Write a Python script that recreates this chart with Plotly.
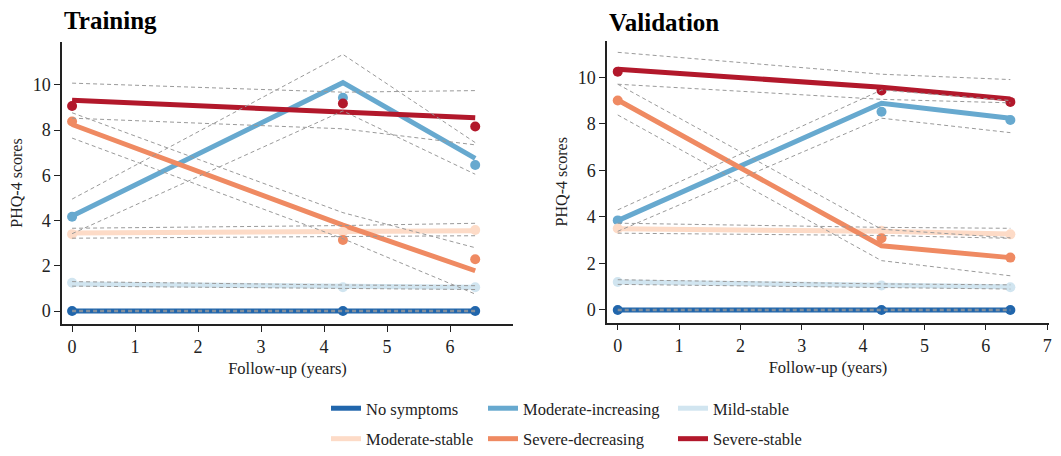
import plotly.graph_objects as go

# ---------------- data ----------------
years = [0, 4.3, 6.4]
classes = ["No symptoms", "Moderate-increasing", "Mild-stable",
           "Moderate-stable", "Severe-decreasing", "Severe-stable"]
colors = ["#2166ac", "#67a9cf", "#d1e5f0", "#fddbc7", "#ef8a62", "#b2182b"]

# Training: fitted trajectories
tr_fit_no_symptoms = [0, 0, 0]
tr_fit_mod_increasing = [4.2, 10.1, 6.75]
tr_fit_mild_stable = [1.2, 1.08, 1.05]
tr_fit_mod_stable = [3.45, 3.5, 3.55]
tr_fit_sev_decreasing = [8.25, 3.8, 1.78]
tr_fit_sev_stable = [9.32, 8.83, 8.55]
# Training: observed means
tr_obs_no_symptoms = [0, 0, 0]
tr_obs_mod_increasing = [4.17, 9.43, 6.46]
tr_obs_mild_stable = [1.25, 1.05, 1.05]
tr_obs_mod_stable = [3.4, 3.5, 3.58]
tr_obs_sev_decreasing = [8.38, 3.14, 2.29]
tr_obs_sev_stable = [9.07, 9.18, 8.16]
# Training: confidence bounds
tr_up_no_symptoms = [0.03, 0.03, 0.03]
tr_lo_no_symptoms = [-0.03, -0.03, -0.03]
tr_up_mod_increasing = [4.95, 11.35, 7.45]
tr_lo_mod_increasing = [3.42, 8.85, 6.05]
tr_up_mild_stable = [1.3, 1.15, 1.12]
tr_lo_mild_stable = [1.1, 0.98, 0.95]
tr_up_mod_stable = [3.66, 3.78, 3.88]
tr_lo_mod_stable = [3.22, 3.28, 3.33]
tr_up_sev_decreasing = [8.77, 4.35, 2.8]
tr_lo_sev_decreasing = [7.65, 3.2, 0.75]
tr_up_sev_stable = [10.08, 9.68, 9.75]
tr_lo_sev_stable = [8.53, 8.06, 7.35]

# Validation: fitted trajectories
va_fit_no_symptoms = [0, 0, 0]
va_fit_mod_increasing = [3.84, 8.88, 8.24]
va_fit_mild_stable = [1.2, 1.05, 1.0]
va_fit_mod_stable = [3.49, 3.38, 3.27]
va_fit_sev_decreasing = [9.02, 2.76, 2.25]
va_fit_sev_stable = [10.34, 9.57, 9.07]
# Validation: observed means
va_obs_no_symptoms = [0, 0, 0]
va_obs_mod_increasing = [3.85, 8.52, 8.16]
va_obs_mild_stable = [1.2, 1.05, 0.98]
va_obs_mod_stable = [3.5, 3.4, 3.25]
va_obs_sev_decreasing = [9.0, 3.08, 2.25]
va_obs_sev_stable = [10.24, 9.43, 8.94]
# Validation: confidence bounds
va_up_no_symptoms = [0.03, 0.03, 0.03]
va_lo_no_symptoms = [-0.03, -0.03, -0.03]
va_up_mod_increasing = [4.3, 9.45, 9.0]
va_lo_mod_increasing = [3.38, 8.24, 7.62]
va_up_mild_stable = [1.3, 1.12, 1.08]
va_lo_mild_stable = [1.1, 0.97, 0.9]
va_up_mod_stable = [3.73, 3.55, 3.51]
va_lo_mod_stable = [3.3, 3.2, 3.08]
va_up_sev_decreasing = [9.7, 3.47, 3.1]
va_lo_sev_decreasing = [8.38, 2.12, 1.47]
va_up_sev_stable = [11.07, 10.13, 9.9]
va_lo_sev_stable = [9.7, 9.05, 8.9]

x_ticks = [0, 1, 2, 3, 4, 5, 6, 7]
y_ticks = [0, 2, 4, 6, 8, 10]

tr_fit = [tr_fit_no_symptoms, tr_fit_mod_increasing, tr_fit_mild_stable,
          tr_fit_mod_stable, tr_fit_sev_decreasing, tr_fit_sev_stable]
tr_obs = [tr_obs_no_symptoms, tr_obs_mod_increasing, tr_obs_mild_stable,
          tr_obs_mod_stable, tr_obs_sev_decreasing, tr_obs_sev_stable]
tr_up = [tr_up_no_symptoms, tr_up_mod_increasing, tr_up_mild_stable,
         tr_up_mod_stable, tr_up_sev_decreasing, tr_up_sev_stable]
tr_lo = [tr_lo_no_symptoms, tr_lo_mod_increasing, tr_lo_mild_stable,
         tr_lo_mod_stable, tr_lo_sev_decreasing, tr_lo_sev_stable]
va_fit = [va_fit_no_symptoms, va_fit_mod_increasing, va_fit_mild_stable,
          va_fit_mod_stable, va_fit_sev_decreasing, va_fit_sev_stable]
va_obs = [va_obs_no_symptoms, va_obs_mod_increasing, va_obs_mild_stable,
          va_obs_mod_stable, va_obs_sev_decreasing, va_obs_sev_stable]
va_up = [va_up_no_symptoms, va_up_mod_increasing, va_up_mild_stable,
         va_up_mod_stable, va_up_sev_decreasing, va_up_sev_stable]
va_lo = [va_lo_no_symptoms, va_lo_mod_increasing, va_lo_mild_stable,
         va_lo_mod_stable, va_lo_sev_decreasing, va_lo_sev_stable]

# legend column for each class (3 columns x 2 rows)
legend_of = ["legend", "legend2", "legend3", "legend", "legend2", "legend3"]

FONT = "Liberation Serif"
fig = go.Figure()

def add_panel(fit, obs, up, lo, xa, ya, show_legend):
    # fitted lines
    for i, name in enumerate(classes):
        fig.add_trace(go.Scatter(
            x=years, y=fit[i], mode="lines", name=name,
            line=dict(color=colors[i], width=5),
            xaxis=xa, yaxis=ya, showlegend=show_legend,
            legend=legend_of[i], legendgroup=name, hoverinfo="skip"))
    # observed means
    for i, name in enumerate(classes):
        fig.add_trace(go.Scatter(
            x=years, y=obs[i], mode="markers", name=name,
            marker=dict(color=colors[i], size=10),
            xaxis=xa, yaxis=ya, showlegend=False, legendgroup=name))
    # confidence bounds
    for i, name in enumerate(classes):
        for b in (up[i], lo[i]):
            fig.add_trace(go.Scatter(
                x=years, y=b, mode="lines",
                line=dict(color="#9a9a9a", width=1, dash="4px,3px"),
                xaxis=xa, yaxis=ya, showlegend=False, hoverinfo="skip"))

add_panel(tr_fit, tr_obs, tr_up, tr_lo, "x", "y", True)
add_panel(va_fit, va_obs, va_up, va_lo, "x2", "y2", False)

W, H = 1061, 456
axis_common = dict(showline=True, linecolor="#222", linewidth=1.5,
                   ticks="outside", ticklen=6, tickcolor="#222", tickwidth=1.2,
                   showgrid=False, zeroline=False, automargin=False,
                   tickfont=dict(family=FONT, size=18, color="#222"))

fig.update_layout(
    width=W, height=H,
    margin=dict(l=0, r=0, t=0, b=0),
    plot_bgcolor="white", paper_bgcolor="white",
    font=dict(family=FONT, color="#222"),
    xaxis=dict(domain=[62 / W, 513 / W], range=[-0.16, 7.0],
               tickvals=x_ticks[:-1], anchor="y",
               title=dict(text="Follow-up (years)", standoff=6,
                          font=dict(family=FONT, size=16.5, color="#222")),
               **axis_common),
    yaxis=dict(domain=[(H - 324) / H, (H - 42) / H], range=[-0.575, 11.9],
               tickvals=y_ticks, anchor="x",
               title=dict(text="PHQ-4 scores", standoff=6,
                          font=dict(family=FONT, size=16, color="#222")),
               **axis_common),
    xaxis2=dict(domain=[607 / W, 1049 / W], range=[-0.175, 7.03],
                tickvals=x_ticks, anchor="y2",
                title=dict(text="Follow-up (years)", standoff=6,
                           font=dict(family=FONT, size=16.5, color="#222")),
                **axis_common),
    yaxis2=dict(domain=[(H - 322.7) / H, (H - 40.7) / H], range=[-0.546, 11.57],
                tickvals=y_ticks, anchor="x2",
                title=dict(text="PHQ-4 scores", standoff=6,
                           font=dict(family=FONT, size=16, color="#222")),
                **axis_common),
    annotations=[
        dict(text="<b>Training</b>", x=62 / W, y=(H - 20) / H, xref="paper", yref="paper",
             xanchor="left", yanchor="middle", showarrow=False,
             font=dict(family=FONT, size=25, color="#000")),
        dict(text="<b>Validation</b>", x=607 / W, y=(H - 22) / H, xref="paper", yref="paper",
             xanchor="left", yanchor="middle", showarrow=False,
             font=dict(family=FONT, size=25, color="#000")),
    ],
)

leg_common = dict(orientation="v", yanchor="bottom", xanchor="left",
                  y=0.0,
                  font=dict(family=FONT, size=16.5, color="#222"),
                  bgcolor="rgba(0,0,0,0)", tracegroupgap=6, itemwidth=30)
fig.update_layout(
    legend=dict(x=326 / W, **leg_common),
    legend2=dict(x=483 / W, **leg_common),
    legend3=dict(x=673 / W, **leg_common),
)

# remove the default page margin so the figure sits at the window origin
fig.write_html("out.html",
               config={"displayModeBar": False},
               post_script="document.body.style.margin='0';document.body.style.overflow='hidden';")
